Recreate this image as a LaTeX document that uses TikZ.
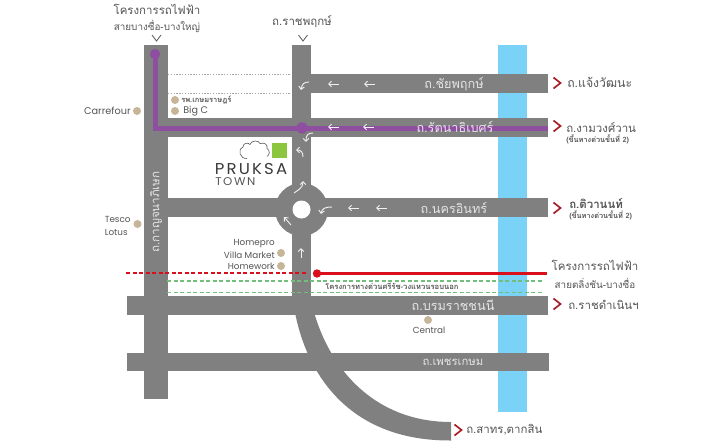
\documentclass[tikz,border=0pt]{standalone}
\usepackage{fontspec}
\usetikzlibrary{arrows.meta,shapes.symbols}
\setmainfont[Script=Thai]{Loma}
\newfontfamily\latinfont{Poppins}
\newfontfamily\logofont[LetterSpace=14,FakeStretch=1.05]{Poppins}
\definecolor{roadc}{HTML}{808080}
\definecolor{riverc}{HTML}{7AD2F6}
\definecolor{purplec}{HTML}{8E4FA0}
\definecolor{redc}{HTML}{D9101C}
\definecolor{chevc}{HTML}{A81C24}
\definecolor{greenc}{HTML}{74BE7C}
\definecolor{dotc}{HTML}{C6B597}
\definecolor{txtc}{HTML}{555555}
\definecolor{leaf}{HTML}{8CC63F}
\tikzset{
  road/.style={fill=roadc,draw=none},
  roadname/.style={text=white!80!roadc,font=\fontsize{9.5}{10}\selectfont,inner sep=0pt},
  lab/.style={text=txtc,font=\fontsize{8.6}{10}\selectfont,inner sep=0pt},
  lableft/.style={lab,anchor=west},
  labright/.style={lab,anchor=east},
  latinlab/.style={font=\latinfont\fontsize{6.6}{9}\selectfont},
  smalllab/.style={text=txtc,font=\fontsize{5.5}{6}\selectfont\bfseries,inner sep=0pt,anchor=west},
  poi/.style={fill=dotc,draw=none,circle,minimum size=6pt,inner sep=0pt},
  trafarrow/.style={draw=white!88!roadc,line width=0.7pt,-{Straight Barb[length=2.2pt,width=4.2pt]}},
  chevron/.style={draw=chevc,line width=1.25pt,line join=miter},
  vmark/.style={draw=txtc,line width=0.6pt},
  x=0.75pt,y=-0.75pt
}
\begin{document}
\begin{tikzpicture}
\useasboundingbox (0,0) rectangle (710,444);
\fill[white] (0,0) rectangle (710,444);
% river
\fill[riverc] (498,45) rectangle (527,412);
% roads
\fill[road] (143.5,45) rectangle (167.5,399);
\fill[road] (292,45) rectangle (311,300);
\fill[road] (292,74) rectangle (548,93);
\fill[road] (160,118) rectangle (548,137);
\fill[road] (160,198) rectangle (548,217);
\fill[road] (127,296) rectangle (548,315);
\fill[road] (127,353) rectangle (549,371);
\fill[road] (293,300) .. controls (300,355) and (335,441) .. (451,440.5) -- (451,422) .. controls (372,422) and (325,365) .. (311,300) -- cycle;
\fill[road] (301.5,209.5) circle[radius=26.5];
\fill[white] (301.5,209.5) circle[radius=9];
% dotted lines
\foreach \x in {168,170.8,...,291} {
  \fill[gray!70] (\x,73.6) rectangle (\x+1.3,74.6);
  \fill[gray!70] (\x,92.6) rectangle (\x+1.3,93.6);
}
% purple line
\fill[purplec] (152.5,54) rectangle (157.5,131);
\fill[purplec] (152.5,126) rectangle (548,131);
\fill[purplec] (155,54) circle[radius=5.2];
\fill[purplec] (302,128) circle[radius=5.7];
% rail and expressway
\foreach \x in {126,132.5,...,303} {\fill[redc] (\x,272) rectangle (\x+4.4,274.4);}
\fill[redc] (317,272.2) rectangle (547,274.6);
\fill[redc] (317,273.5) circle[radius=4.2];
\foreach \x in {167,173.5,...,542} {
  \fill[greenc] (\x,280.4) rectangle (\x+4.2,281.6);
  \fill[greenc] (\x,291.9) rectangle (\x+4.2,293.1);
}
% traffic arrows
\foreach \x in {333,369} {\draw[trafarrow] (\x+6,84) -- (\x-5,84);}
\foreach \x in {333,368} {\draw[trafarrow] (\x+6,127) -- (\x-5,127);}
\foreach \x in {353,381} {\draw[trafarrow] (\x+6,208) -- (\x-5,208);}
\draw[trafarrow] (309,82) .. controls (304,82) and (302,84) .. (301,90);
\draw[trafarrow] (313,133) .. controls (308,133) and (306,135) .. (306,142);
\draw[trafarrow] (303,157) .. controls (303,152) and (301,150) .. (296,150);
\draw[trafarrow] (294,193) .. controls (298,190) and (303,188) .. (303,181);
\draw[trafarrow] (332,207) .. controls (326,207) and (322,208) .. (321,214);
\draw[trafarrow] (291,225) -- (284,217);
\draw[trafarrow] (301,258) -- (301,248);
% road names
\node[roadname] (chai) at (454,84) {ถ.ชัยพฤกษ์};
\node[roadname] (rat) at (455,126.5) {ถ.รัตนาธิเบศร์};
\node[roadname] (nak) at (454,208) {ถ.นครอินทร์};
\node[roadname] (bor) at (453,305) {ถ.บรมราชชนนี};
\node[roadname,font=\fontsize{8.5}{10}\selectfont] (phet) at (453,362) {ถ.เพชรเกษม};
\node[roadname,rotate=90,font=\fontsize{8.7}{10}\selectfont] (kan) at (156,212) {ถ.กาญจนาภิเษก};
% top labels
\node[lab] (brt1) at (157,9) {โครงการรถไฟฟ้า};
\node[lab,font=\fontsize{7.4}{10}\selectfont] (brt2) at (157,27) {สายบางซื่อ-บางใหญ่};
\node[lab] (ratch) at (302,22) {ถ.ราชพฤกษ์};
\draw[vmark] (152,35) -- (156.5,41) -- (161,35);
\draw[vmark] (298.5,35) -- (303,41) -- (307.5,35);
% chevrons
\foreach \x/\y in {557/83,557/126,557/208,557/304,458/430} {
  \draw[chevron] (\x-3.5,\y-5.5) -- (\x+3.5,\y) -- (\x-3.5,\y+5.5);
}
% right labels
\node[lableft,font=\fontsize{9.2}{10}\selectfont] (chaeng) at (567,82) {ถ.แจ้งวัฒนะ};
\node[lableft] (ngam) at (566,127) {ถ.งามวงศ์วาน};
\node[smalllab] (ngam2) at (566,139) {(ขึ้นทางด่วนขั้นที่ 2)};
\node[lableft,font=\fontsize{8.6}{10}\selectfont\bfseries] (tiwa) at (569,203) {ถ.ติวานนท์};
\node[smalllab] (tiwa2) at (569,215) {(ขึ้นทางด่วนขั้นที่ 2)};
\node[lab] (prj1) at (595,265) {โครงการรถไฟฟ้า};
\node[lab,font=\fontsize{7.4}{10}\selectfont] (prj2) at (595,283) {สายตลิ่งชัน-บางซื่อ};
\node[lableft] (ratd) at (568,305) {ถ.ราชดำเนินฯ};
\node[lableft] (sath) at (466,430) {ถ.สาทร,ตากสิน};
\node[smalllab,font=\fontsize{5.7}{6}\selectfont\bfseries] (expr) at (325,286.5) {โครงการทางด่วนศรีรัช-วงแหวนรอบนอก};
% points of interest
\node[poi] (pkasem) at (175,100) {};
\node[lableft,font=\fontsize{5.6}{6}\selectfont\bfseries] (tkasem) at (181,100) {รพ.เกษมราษฎร์};
\node[poi] (pbigc) at (175,111) {};
\node[lableft,latinlab,font=\latinfont\fontsize{7.2}{9}\selectfont] (tbigc) at (183,111) {Big C};
\node[poi] (pcarr) at (137,111) {};
\node[labright,latinlab,font=\latinfont\fontsize{7.3}{9}\selectfont] (tcarr) at (131,111) {Carrefour};
\node[poi] (ptesco) at (137.5,224) {};
\node[lableft,latinlab] (ttesco) at (104.5,219) {Tesco};
\node[lableft,latinlab] (tlotus) at (104.5,232) {Lotus};
\node[labright,latinlab] (thome) at (275,244) {Homepro};
\node[labright,latinlab] (tvilla) at (275,255) {Villa Market};
\node[labright,latinlab] (twork) at (275,266) {Homework};
\node[poi] (pvilla) at (281,253) {};
\node[poi] (pwork) at (281,266) {};
\node[poi] (pcent) at (428,320) {};
\node[lab,latinlab] (tcent) at (429,330) {Central};
% logo
\fill[leaf] (272,143) rectangle (287,158);
\draw[txtc,line width=0.45pt] (247,158.5) .. controls (240,159) and (237,150) .. (243,147)
  .. controls (243,143) and (248,142) .. (250,144.5)
  .. controls (251,140) and (259,140) .. (260,143.5)
  .. controls (265,142) and (268,145) .. (267,148.5)
  .. controls (270,150) and (270,155) .. (267,156.5);
\node[inner sep=0pt,anchor=west,text=txtc!70!black,font=\logofont\fontsize{11.8}{12}\selectfont] (plogo) at (214.5,168.5) {PRUKSA};
\node[inner sep=0pt,anchor=west,text=txtc,font=\logofont\fontsize{8.4}{10}\selectfont] (tlogo) at (215,182) {TOWN};
\end{tikzpicture}
\end{document}
